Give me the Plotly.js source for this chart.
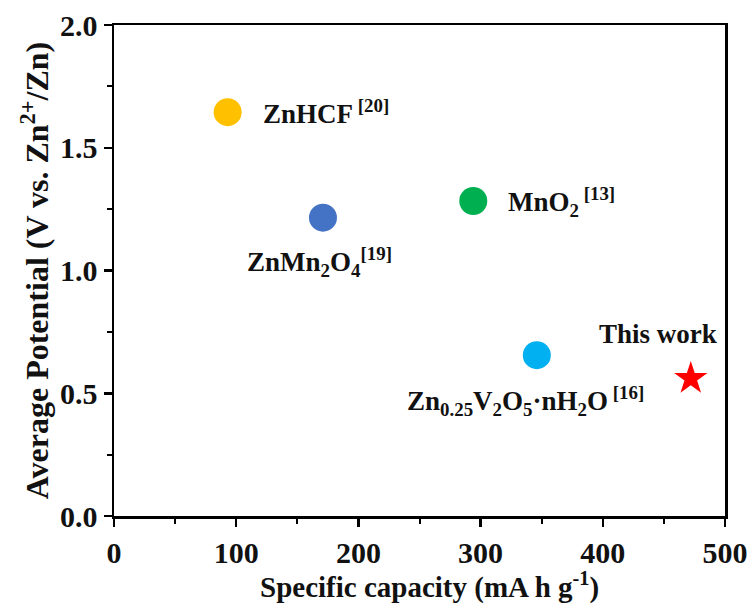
<!DOCTYPE html>
<html>
<head>
<meta charset="utf-8">
<script src="https://cdn.plot.ly/plotly-3.0.1.min.js"></script>
<style>body{margin:0;background:#fff}#chart{width:756px;height:609px}</style>
</head>
<body>
<div id="chart"></div>
<script>
// Data
const materials = ["ZnHCF", "ZnMn2O4", "MnO2", "Zn0.25V2O5·nH2O", "This work"];
const capacity = [93, 171, 294, 346, 472];        // mA h g-1
const potential = [1.645, 1.215, 1.283, 0.655, 0.56]; // V vs Zn2+/Zn
const colors = ["#FFC000", "#4472C4", "#00B050", "#00B0F0", "#FF0000"];
const symbols = ["circle", "circle", "circle", "circle", "star"];
const sizes = [28, 28, 28, 28, 25];
const labels = [
  "ZnHCF<sup> [20]</sup>",
  "ZnMn<sub>2</sub>O<sub>4</sub><sup>[19]</sup>",
  "MnO<sub>2</sub><sup> [13]</sup>",
  "Zn<sub>0.25</sub>V<sub>2</sub>O<sub>5</sub>·nH<sub>2</sub>O<sup> [16]</sup>",
  "This work"
];
const xTicks = [0, 100, 200, 300, 400, 500];
const yTicks = [0.0, 0.5, 1.0, 1.5, 2.0];

const font = "Liberation Serif";

const traces = materials.map((m, i) => ({
  type: "scatter", mode: "markers", name: m,
  x: [capacity[i]], y: [potential[i]],
  marker: {color: colors[i], symbol: symbols[i], size: sizes[i], line: {width: 0}},
  hoverinfo: "skip"
}));

// label placement (data units): [x, y, xanchor]
const labelPos = [
  [120, 1.645, "left"],
  [168, 1.035, "center"],
  [321, 1.28, "left"],
  [238, 0.47, "left"],
  [395, 0.74, "left"]
];

const annotations = labels.map((t, i) => ({
  text: "<b>" + t + "</b>",
  x: labelPos[i][0], y: labelPos[i][1], xref: "x", yref: "y",
  xanchor: labelPos[i][2], yanchor: "middle", showarrow: false,
  font: {family: font, size: 27, color: "#111"}
}));

// x-axis title placed as a paper annotation so it sits as close as in the reference
annotations.push({
  text: "<b>Specific capacity (mA h g<sup>-1</sup>)</b>",
  xref: "paper", yref: "paper", x: 0.517, y: -0.141,
  xanchor: "center", yanchor: "middle", showarrow: false,
  font: {family: font, size: 29, color: "#111"}
});

const axisCommon = {
  showgrid: false, zeroline: false, showline: true, linewidth: 2.5, linecolor: "#000",
  mirror: true, ticks: "outside", ticklen: 8, tickwidth: 2.5, tickcolor: "#000",
  tickfont: {family: font, size: 30, color: "#111", weight: "bold"},
  minor: {ticks: "outside", ticklen: 5, tickwidth: 2, tickcolor: "#000"}
};

const layout = {
  width: 756, height: 609,
  margin: {l: 114, r: 31, t: 25, b: 93},
  paper_bgcolor: "#fff", plot_bgcolor: "#fff",
  showlegend: false,
  xaxis: Object.assign({}, axisCommon, {
    range: [0, 500], tickvals: xTicks, ticktext: xTicks.map(v => "<b>" + v + "</b>"),
    minor: Object.assign({}, axisCommon.minor, {dtick: 50})
  }),
  yaxis: Object.assign({}, axisCommon, {
    range: [0, 2], tickvals: yTicks, ticktext: yTicks.map(v => "<b>" + v.toFixed(1) + "</b>"),
    minor: Object.assign({}, axisCommon.minor, {dtick: 0.25}),
    title: {text: "<b>Average Potential (V vs. Zn<sup>2+</sup>/Zn)</b>", font: {family: font, size: 32, color: "#111"}, standoff: 2}
  }),
  annotations: annotations
};

Plotly.newPlot("chart", traces, layout, {staticPlot: true, displayModeBar: false});
</script>
</body>
</html>
